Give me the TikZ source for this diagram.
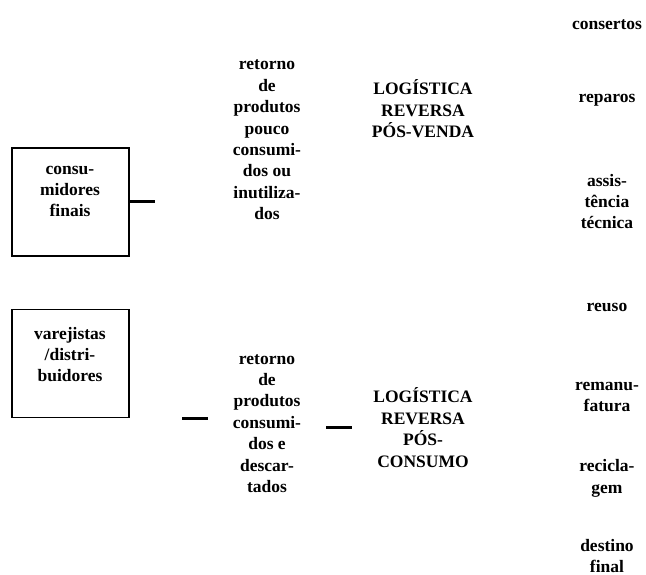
\documentclass[tikz,border=0pt]{standalone}
\usepackage{fontspec}
\setmainfont{Liberation Serif}
\usetikzlibrary{positioning}

\begin{document}
\begin{tikzpicture}[x=1pt, y=-1pt,
  txt/.style={align=center, inner sep=0pt, font=\fontsize{17.5}{21.4}\selectfont\bfseries},
  box/.style={draw, line width=1.5pt, minimum width=117pt, minimum height=108pt, inner sep=0pt},
  stub/.style={line width=3pt}]

\useasboundingbox (0, 0) rectangle (646, 575);

% origin boxes
\node[box] (consumidores) at (70.5, 202) {};
\node[txt] (consumidorestxt) at (70, 191.5) {consu-\\midores\\finais};
\node[box] (varejistas) at (70.5, 363.5) {};
\node[txt] (varejistastxt) at (70, 354.5) {varejistas\\/distri-\\buidores};

% returns
\node[txt] (posvenda) at (267, 140) {retorno\\de\\produtos\\pouco\\consumi-\\dos ou\\inutiliza-\\dos};
\node[txt] (posconsumo) at (267, 423.5) {retorno\\de\\produtos\\consumi-\\dos e\\descar-\\tados};
\node[txt] (lrpv) at (423, 109) {LOGÍSTICA\\REVERSA\\PÓS-VENDA};
\node[txt] (lrpc) at (423, 427.5) {LOGÍSTICA\\REVERSA\\PÓS-\\CONSUMO};

% destinations
\node[txt] (consertos) at (607, 25) {consertos};
\node[txt] (reparos) at (607, 100) {reparos};
\node[txt] (assistencia) at (607, 201.5) {assis-\\tência\\técnica};
\node[txt] (reuso) at (607, 307) {reuso};
\node[txt] (remanufatura) at (607, 397) {remanu-\\fatura};
\node[txt] (reciclagem) at (607, 478.5) {recicla-\\gem};
\node[txt] (destino) at (607, 556) {destino\\final};

% stubs
\coordinate (c1) at (155, 202);
\coordinate (c2a) at (182, 418);
\coordinate (c2b) at (208, 418);
\coordinate (c3a) at (326, 427);
\coordinate (c3b) at (352, 427);
\draw[stub] (consumidores.east) -- (c1);
\draw[stub] (c2a) -- (c2b);
\draw[stub] (c3a) -- (c3b);

\end{tikzpicture}
\end{document}
